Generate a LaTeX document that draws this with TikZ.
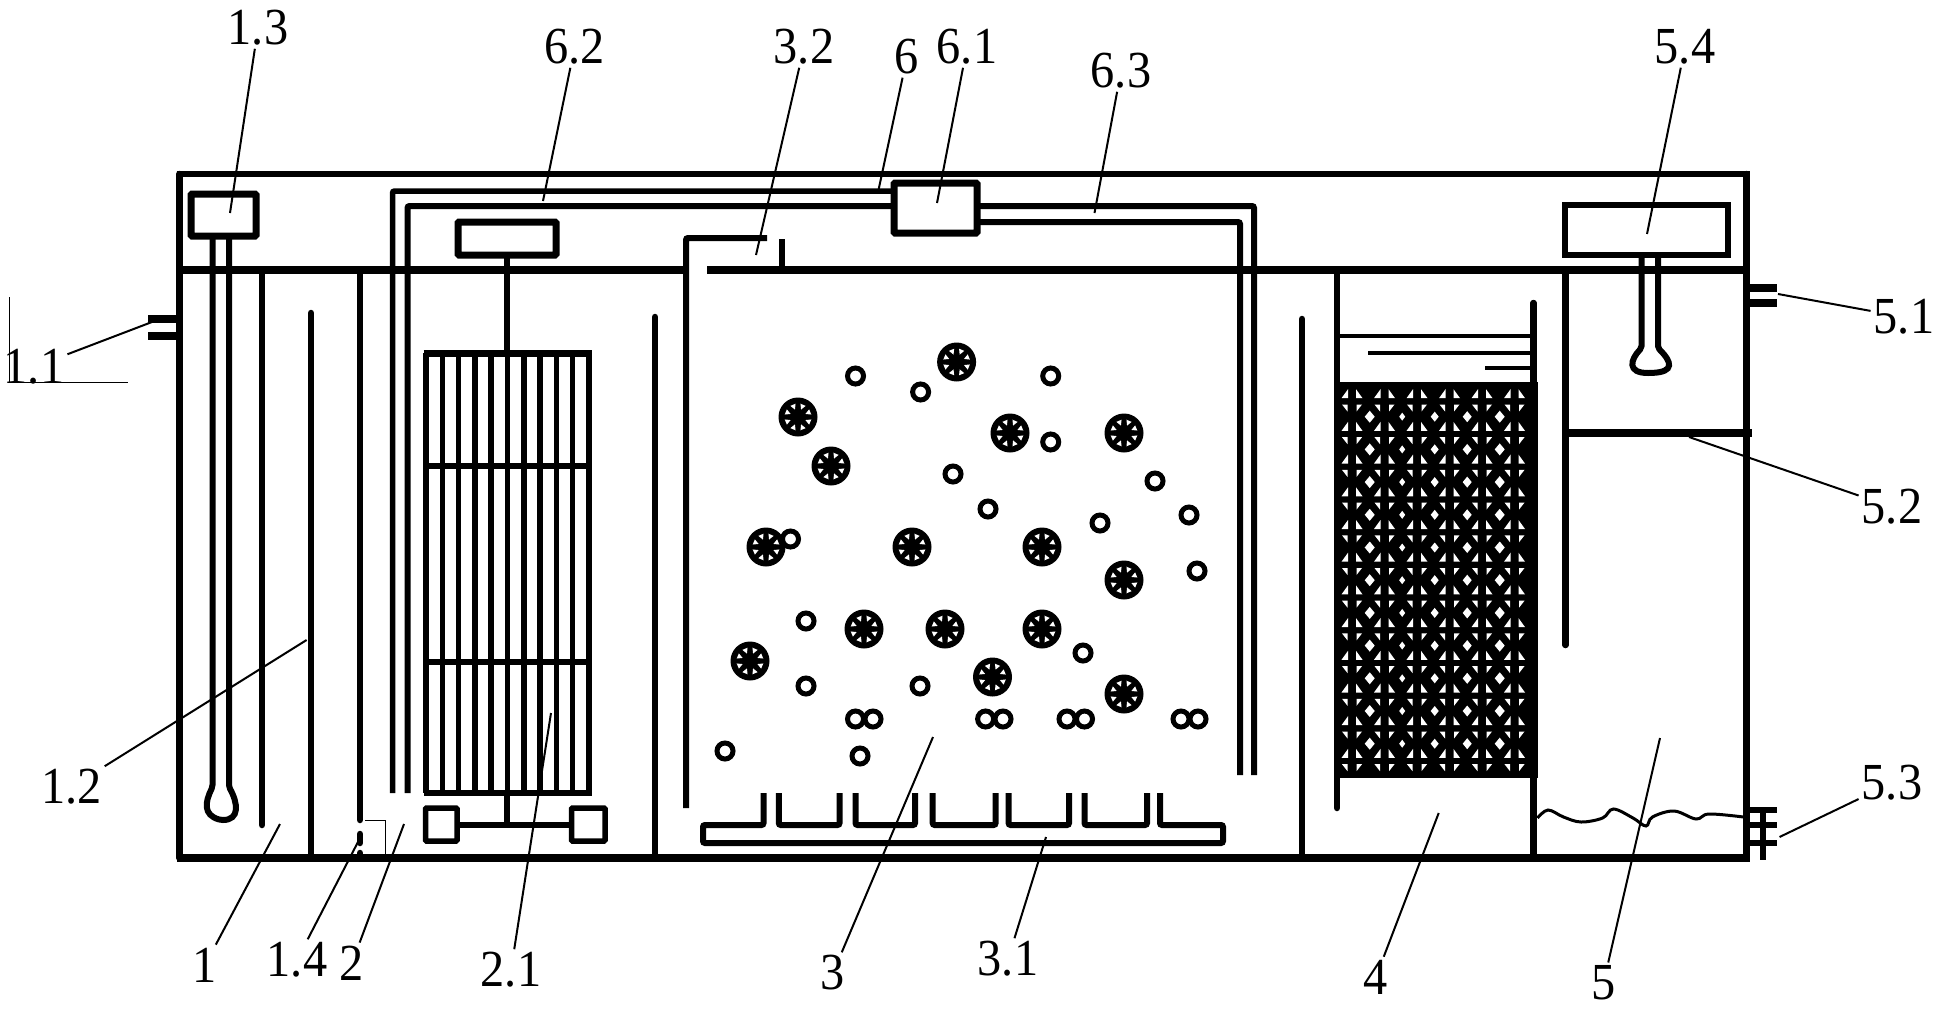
\documentclass[tikz,border=0pt]{standalone}
\usepackage{fontspec}
\setmainfont[FakeStretch=0.93]{Liberation Serif}
\tikzset{
  wall/.style={line width=6.5pt, line cap=round},
  slab/.style={line width=8pt},
  tube/.style={line width=6pt, rounded corners=2pt},
  unitbox/.style={line width=7pt, rounded corners=1pt},
  hair/.style={line width=1pt},
  leader/.style={line width=2pt},
  lab/.style={inner sep=3pt, font=\fontsize{52}{52}\selectfont},
  bubble/.style={line width=5pt},
  wheel/.pic={
    \fill (0,0) circle (19.5);
    \foreach \a in {22.5,67.5,...,360}
      \fill [white] (\a:8) -- (\a-12:13.5) -- (\a+12:13.5) -- cycle;
  }
}
\begin{document}
\begin{tikzpicture}[x=1pt, y=-1pt]
  \useasboundingbox (0,0) rectangle (1938,1012);

  % packing of tank 4
  \fill (1334,382) rectangle (1537.5,778);
  \foreach \k in {0,...,11}
    \foreach \j in {0,...,5} {
      \pgfmathsetmacro\xp{1352+32.5*\j}
      \pgfmathsetmacro\yu{393.7+32.7*\k}
      \pgfmathsetmacro\yd{408+32.7*\k}
      \fill [white] (\xp-10.5,\yu+4.5) -- (\xp-4,\yu+4.5) -- (\xp-4,\yu-4.5) -- cycle;
      \fill [white] (\xp+4,\yu+4.5) -- (\xp+10.5,\yu+4.5) -- (\xp+4,\yu-4.5) -- cycle;
      \fill [white] (\xp-10,\yd-3.5) -- (\xp-4.5,\yd-3.5) -- (\xp-4.5,\yd+3.5) -- cycle;
      \fill [white] (\xp+4.5,\yd-3.5) -- (\xp+10,\yd-3.5) -- (\xp+4.5,\yd+3.5) -- cycle;
    }
  \foreach \k in {0,...,10}
    \foreach \j/\r in {0/5,1/3,2/4,3/4.5,4/5} {
      \pgfmathsetmacro\xd{1369.7+32.5*\j}
      \pgfmathsetmacro\yc{416.7+32.7*\k}
      \fill [white] (\xd-\r,\yc) -- (\xd,\yc-\r-1) -- (\xd+\r,\yc) -- (\xd,\yc+\r+1) -- cycle;
    }

  % casing
  \draw [wall] (179.5,174) -- (179.5,858);
  \draw [wall] (1746.5,174) -- (1746.5,858);
  \draw [line width=6pt] (176.5,174) -- (1749.5,174);
  \draw [slab] (179.5,270) -- (683,270);
  \draw [slab] (707,270) -- (1746.5,270);
  \draw [slab] (176.5,858) -- (1749.5,858);

  % partitions
  \draw [wall] (262,270) -- (262,825);
  \draw [wall] (311,313) -- (311,858);
  \draw [wall] (360,270) -- (360,820);
  \draw [wall] (360,834) -- (360,843);
  \draw [wall] (360,853) -- (360,858);
  \draw [wall] (655,317) -- (655,858);
  \draw [wall] (1302,319) -- (1302,858);
  \draw [wall] (1337,270) -- (1337,808);
  \draw [wall] (1533.5,303) -- (1533.5,858);
  \draw [wall] (1565.5,270) -- (1565.5,645);
  \draw [slab] (1565.5,433) -- (1752,433);
  \draw [hair] (365,820) -- (385,820) -- (385,857);

  % pump 1.3 and its pipe
  \draw [unitbox] (191,194) rectangle (256,236);
  \draw [tube] (212.5,236) -- (212.5,787) .. controls (205,802) and (203,815) .. (221,820)
    .. controls (240,820) and (238,803) .. (229,787) -- (229,236);
  \draw [slab] (148,319) -- (178,319);
  \draw [slab] (148,336) -- (178,336);
  \draw [hair] (9.5,297) -- (9.5,382) -- (128,382);

  % tank 2 membrane
  \draw [unitbox] (458,222) rectangle (556,255);
  \draw [wall, line cap=butt] (507,255) -- (507,353);
  \foreach \i in {0,...,10}
    \draw [line width=5.5pt] (426+16.3*\i,353) -- (426+16.3*\i,793);
  \draw [line width=7pt] (423.5,353) -- (591.5,353);
  \draw [line width=6.5pt] (423.5,466) -- (591.5,466);
  \draw [line width=6.5pt] (423.5,662) -- (591.5,662);
  \draw [line width=6.5pt, rounded corners=2pt] (423.5,793) -- (591.5,793);
  \draw [unitbox, line width=5.5pt] (425.5,808) rectangle (457,841);
  \draw [unitbox, line width=5.5pt] (571.5,808) rectangle (605,841);
  \draw [line width=6.5pt] (457,825) -- (571.5,825);
  \draw [line width=5.5pt] (507,793) -- (507,825);

  % return pipes 6
  \draw [unitbox] (894,183) rectangle (977,233);
  \draw [tube, line width=5.5pt] (392.5,793) -- (392.5,191) -- (894,191);
  \draw [tube] (407.5,793) -- (407.5,206) -- (894,206);
  \draw [tube] (977,206) -- (1254,206) -- (1254,775);
  \draw [tube] (977,222) -- (1240,222) -- (1240,775);

  % weir of tank 3
  \draw [tube] (767,238) -- (686,238) -- (686,808);
  \draw [line width=5.5pt] (782,239) -- (782,270);

  % aerator 3.1
  \draw [tube] (763.5,793) -- (763.5,825) -- (703,825) -- (703,843) -- (1223,843) -- (1223,825)
    -- (1160,825) -- (1160,793);
  \foreach \ua/\ub in {778.8/839.5,855.5/915,932.7/995.6,1008.6/1069,1084.5/1147}
    \draw [tube] (\ua,793) -- (\ua,825) -- (\ub,825) -- (\ub,793);

  % carriers
  \foreach \cx/\cy in {956.6/362,798/417,831/466,1010/433,1124/433,766/547,912/547,1042/547,
      1124/580,864/629,945/629,1042/629,750/661,992.5/677,1124/694}
    \pic at (\cx,\cy) {wheel};
  \foreach \cx/\cy in {855.5/376,920.6/392,1050.7/376,1050.7/442,953/474,1155/481,988/509,
      1100/523,1189/515,790.5/539,1197/571,806/621,1083/653,806/686,920/686,855.5/719,873/719,
      985.6/719,1003/719,1067/719,1084.5/719,1181/719,1198/719,725/751,860/756}
    \draw [bubble] (\cx,\cy) circle (8);

  % water lines in tank 4
  \draw [line width=4pt] (1337,336) -- (1533,336);
  \draw [line width=3.5pt] (1368,353) -- (1533,353);
  \draw [line width=3.5pt] (1485,368) -- (1533,368);

  % tank 5
  \draw [line width=5.5pt] (1565,205) rectangle (1728,255);
  \draw [tube] (1641.5,255) -- (1641.5,348) .. controls (1630,360) and (1627,373) .. (1650,373)
    .. controls (1675,372) and (1672,362) .. (1658,348) -- (1658,255);
  \draw [slab] (1750,288) -- (1777,288);
  \draw [slab] (1750,303) -- (1777,303);
  \draw [line width=6pt] (1750,810) -- (1777,810);
  \draw [line width=6pt] (1750,825) -- (1777,825);
  \draw [line width=6pt] (1750,843) -- (1777,843);
  \draw [line width=5.5pt] (1763,810) -- (1763,860);
  \draw [line width=3pt] plot [smooth, tension=0.6] coordinates {(1537.5,818) (1548,810) (1563.5,817)
    (1581,822) (1602.6,818) (1613.4,809) (1633,818) (1646,826) (1652.4,817) (1674,811)
    (1696,819) (1709,814) (1743.5,817)};

  % labels
  \node [lab] (l1) at (205,965) {1};
  \node [lab] (l11) at (34,367) {1.1};
  \node [lab] (l12) at (71.5,787) {1.2};
  \node [lab] (l13) at (258,28) {1.3};
  \node [lab] (l14) at (297,960) {1.4};
  \node [lab] (l2) at (352,963) {2};
  \node [lab] (l21) at (511,970) {2.1};
  \node [lab] (l3) at (833,973) {3};
  \node [lab] (l31) at (1008,959) {3.1};
  \node [lab] (l32) at (804,47) {3.2};
  \node [lab] (l4) at (1376,977) {4};
  \node [lab] (l5) at (1603.5,983) {5};
  \node [lab] (l51) at (1904,317) {5.1};
  \node [lab] (l52) at (1892,507) {5.2};
  \node [lab] (l53) at (1892,783) {5.3};
  \node [lab] (l54) at (1685,47) {5.4};
  \node [lab] (l6) at (907,57) {6};
  \node [lab] (l61) at (967,47) {6.1};
  \node [lab] (l62) at (574.6,47) {6.2};
  \node [lab] (l63) at (1121,71) {6.3};

  % leader ends
  \coordinate (t1) at (280,824);
  \coordinate (t11) at (152,322);
  \coordinate (t12) at (306.6,640);
  \coordinate (t13) at (230,213);
  \coordinate (t14) at (359,840);
  \coordinate (t2) at (404,824);
  \coordinate (t21) at (551,713);
  \coordinate (t3) at (933,737);
  \coordinate (t31) at (1046,837);
  \coordinate (t32) at (756,255);
  \coordinate (t4) at (1438.7,813);
  \coordinate (t5) at (1660,738);
  \coordinate (t51) at (1778,294);
  \coordinate (t52) at (1689,437);
  \coordinate (t53) at (1779.5,837);
  \coordinate (t54) at (1647,234);
  \coordinate (t6) at (878.5,190);
  \coordinate (t61) at (937,203);
  \coordinate (t62) at (543,201);
  \coordinate (t63) at (1094.5,213);

  \foreach \n in {1,11,12,13,14,2,21,3,31,32,4,5,51,52,53,54,6,61,62,63}
    \draw [leader] (l\n) -- (t\n);
\end{tikzpicture}
\end{document}
